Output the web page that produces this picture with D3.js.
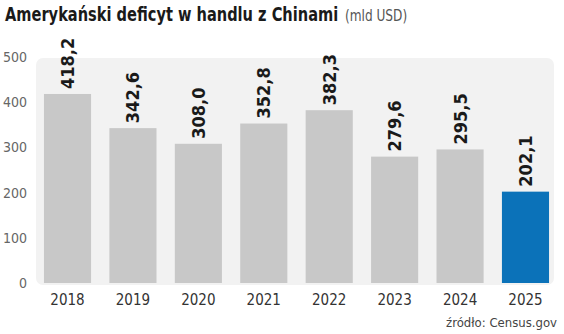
<!DOCTYPE html>
<html>
<head>
<meta charset="utf-8">
<script src="https://cdn.jsdelivr.net/npm/d3@7"></script>
<style>
  body { margin: 0; background: #fff; }
  svg text { font-family: "DejaVu Sans Condensed", "DejaVu Sans", sans-serif; }
</style>
</head>
<body>
<div id="chart"></div>
<script>
const WIDTH = 564;
const HEIGHT = 334;

const years = ["2018", "2019", "2020", "2021", "2022", "2023", "2024", "2025"];
const deficit = [418.2, 342.6, 308.0, 352.8, 382.3, 279.6, 295.5, 202.1];
const yTicks = [0, 100, 200, 300, 400, 500];

const PANEL = { LEFT: 36, TOP: 58, RIGHT: 554, BOTTOM: 285 };

const svg = d3.select('#chart')
    .append('svg')
    .attr('width', WIDTH)
    .attr('height', HEIGHT);

// title, squeezed horizontally to match the narrow original face
svg.append('text')
    .attr('transform', 'translate(5, 21) scale(0.855, 1)')
    .attr('font-weight', 'bold')
    .attr('font-size', 19)
    .attr('fill', '#1a1a1a')
    .text('Amerykański deficyt w handlu z Chinami');
svg.append('text')
    .attr('transform', 'translate(345, 21) scale(0.9, 1)')
    .attr('font-size', 15)
    .attr('fill', '#555')
    .text('(mld USD)');

svg.append('rect')
    .attr('x', PANEL.LEFT)
    .attr('y', PANEL.TOP)
    .attr('width', PANEL.RIGHT - PANEL.LEFT)
    .attr('height', PANEL.BOTTOM - PANEL.TOP)
    .attr('rx', 7)
    .attr('fill', '#f2f2f2');

const x = d3.scaleBand()
    .domain(years)
    .range([42, 551])
    .paddingInner(0.28)
    .paddingOuter(0.03);

const y = d3.scaleLinear()
    .domain([0, 500])
    .range([283, 57]);

// y axis labels
svg.append('g')
    .selectAll('text')
    .data(yTicks)
    .enter()
    .append('text')
    .attr('x', 27)
    .attr('y', d => y(d))
    .attr('dy', '0.35em')
    .attr('text-anchor', 'end')
    .attr('font-size', 14)
    .attr('fill', '#666')
    .text(d => d);

// bars
svg.append('g')
    .selectAll('rect')
    .data(deficit)
    .enter()
    .append('rect')
    .attr('x', (d, i) => x(years[i]))
    .attr('y', d => y(d))
    .attr('width', x.bandwidth())
    .attr('height', d => y(0) - y(d))
    .attr('fill', (d, i) => i === years.length - 1 ? '#0b72b9' : '#c8c8c8');

// value labels, rotated
const fmt = d => d.toFixed(1).replace('.', ',');
svg.append('g')
    .selectAll('text')
    .data(deficit)
    .enter()
    .append('text')
    .attr('transform', (d, i) => `translate(${x(years[i]) + x.bandwidth() / 2}, ${y(d) - 5}) rotate(-90)`)
    .attr('dy', '0.36em')
    .attr('font-size', 18)
    .attr('font-weight', 'bold')
    .attr('fill', '#1a1a1a')
    .text(fmt);

// x labels
svg.append('g')
    .selectAll('text')
    .data(years)
    .enter()
    .append('text')
    .attr('x', d => x(d) + x.bandwidth() / 2)
    .attr('y', 305)
    .attr('text-anchor', 'middle')
    .attr('font-size', 15)
    .attr('fill', '#333')
    .text(d => d);

svg.append('text')
    .attr('x', 557)
    .attr('y', 327)
    .attr('text-anchor', 'end')
    .attr('font-size', 13)
    .attr('fill', '#444')
    .text('źródło: Census.gov');
</script>
</body>
</html>
